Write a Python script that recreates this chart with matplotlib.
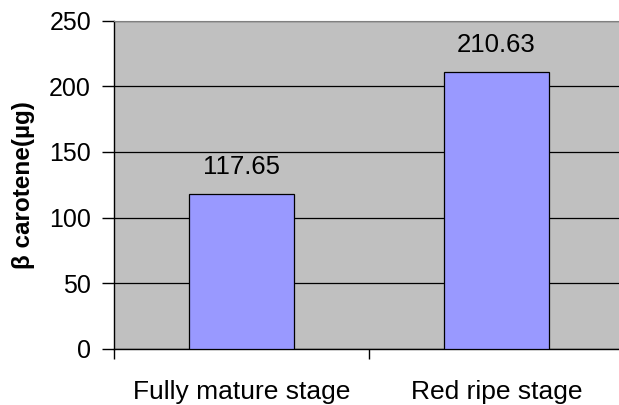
import matplotlib.pyplot as plt

# data
stages = ["Fully mature stage", "Red ripe stage"]
carotene = [117.65, 210.63]
y_ticks = [0, 50, 100, 150, 200, 250]

plt.rcParams['font.family'] = ['Liberation Sans', 'DejaVu Sans']

fig = plt.figure(figsize=(6.19, 4.05), dpi=100)
ax = fig.add_axes([114 / 619, 1 - 349 / 405, 510 / 619, 328.5 / 405])

ax.set_facecolor('#C0C0C0')
x = list(range(len(stages)))
ax.bar(x, carotene, width=0.41, color='#9999FF', edgecolor='black',
       linewidth=0.9, zorder=3)

for xi, v in zip(x, carotene):
    ax.annotate(f"{v:.2f}", (xi, v), xytext=(0, 11), textcoords='offset points',
                ha='center', va='bottom', fontsize=18.5)

ax.set_xlim(-0.5, 1.5)
ax.set_ylim(0, 250)
ax.set_yticks(y_ticks)
ax.yaxis.grid(True, color='black', linewidth=0.9, zorder=1)
ax.set_axisbelow(True)

# category boundaries get the ticks, names sit centred under the bars
ax.set_xticks([-0.5, 0.5], minor=False)
ax.set_xticklabels([])
ax.set_xticks(x, minor=True)
ax.set_xticklabels(stages, minor=True, fontsize=19)
ax.tick_params(axis='x', which='minor', length=0, pad=22)
ax.tick_params(axis='x', which='major', length=7, width=1, direction='out')
ax.tick_params(axis='y', length=9, width=1, direction='out', labelsize=18, pad=7.5)

ax.spines['left'].set_linewidth(1)
ax.spines['bottom'].set_linewidth(1)
ax.spines['top'].set_color('#808080')
ax.spines['right'].set_color('#808080')

ax.set_ylabel("β carotene(µg)", fontsize=17.5, fontweight='bold', labelpad=10)

fig.savefig("out.png", dpi=100)
